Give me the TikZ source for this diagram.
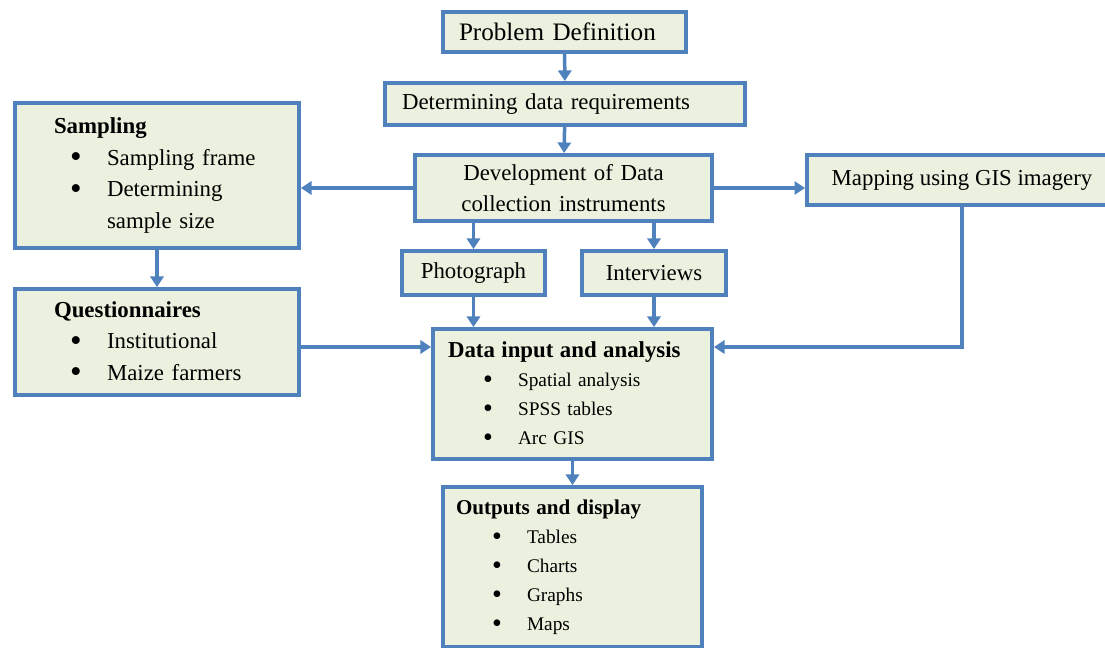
\documentclass[tikz,border=0pt]{standalone}
\usepackage{fontspec}
\setmainfont{Liberation Serif}
\usepackage{tikz}
\usetikzlibrary{arrows.meta,positioning,calc}
\usepackage{xcolor}
\definecolor{boxblue}{RGB}{79,129,189}
\definecolor{boxfill}{RGB}{235,241,222}
\newcommand{\bigdot}{\raisebox{-0.1em}{\scalebox{1.45}{\textbullet}}}
\newcommand{\blt}[3]{\hspace*{#1}\makebox[#2][l]{\bigdot}#3}
\newcommand{\fsbig}{\fontsize{14.3}{17}\selectfont}
\newcommand{\fsmid}{\fontsize{13}{18}\selectfont}
\newcommand{\fssml}{\fontsize{11}{16.5}\selectfont}
\tikzset{
  bx/.style={draw=boxblue,fill=boxfill,line width=0.08cm,
             inner ysep=2pt,font=\fsmid},
  bxl/.style={bx,align=left},
  bxc/.style={bx,align=center},
}

\begin{document}
\begin{tikzpicture}[
    x=0.02cm,y=-0.02cm,
    arr/.style={-{Triangle[length=6pt,width=7.5pt]},line width=0.07cm,boxblue}
  ]
    \useasboundingbox (0,0) rectangle (1105,648);
    % main column
    \node[bxl,font=\fsbig,text width=4.22cm,inner xsep=0.32cm,
          minimum height=0.8cm] (prob) at (564.5,32) {Problem Definition};
    \node[bxl,text width=6.52cm,inner xsep=0.34cm,
          minimum height=0.84cm] (req) at (565,104)
      {Determining data requirements};
    \node[bxc,text width=5.5cm,inner xsep=0.22cm,
          minimum height=1.32cm] (dev) at (563.5,188)
      {Development of Data\\ collection instruments};
    \node[bxc,minimum width=2.86cm,minimum height=0.88cm] (photo)
      at (473.5,273) {Photograph};
    \node[bxc,minimum width=2.88cm,minimum height=0.88cm] (intv)
      at (654,273) {Interviews};
    \node[bxc,minimum width=6.2cm,minimum height=1.0cm] (map)
      at (962,180) {Mapping using GIS imagery};
    % side boxes
    \node[bxl,text width=4.12cm,inner xsep=0.78cm,
          minimum height=2.9cm] (samp) at (157,175.5)
      {\textbf{Sampling}\\
       \blt{0.32cm}{0.74cm}{Sampling frame}\\
       \blt{0.32cm}{0.74cm}{Determining}\\
       \hspace*{1.06cm}sample size};
    \node[bxl,text width=4.12cm,inner xsep=0.78cm,
          minimum height=2.12cm] (quest) at (157,342)
      {\textbf{Questionnaires}\\
       \blt{0.32cm}{0.74cm}{Institutional}\\
       \blt{0.32cm}{0.74cm}{Maize farmers}};
    % analysis and output
    \node[bxl,font=\fssml,text width=4.98cm,inner xsep=0.3cm,
          minimum height=2.6cm] (data) at (572.5,394)
      {{\fontsize{13}{16.5}\selectfont\bfseries Data input and analysis}\\
       \blt{0.7cm}{0.7cm}{Spatial analysis}\\
       \blt{0.7cm}{0.7cm}{SPSS tables}\\
       \blt{0.7cm}{0.7cm}{Arc GIS}};
    \node[bxl,font=\fssml,text width=4.66cm,inner xsep=0.26cm,
          minimum height=3.2cm] (outp) at (572.5,567)
      {{\fontsize{12}{16.7}\selectfont\bfseries Outputs and display}\\
       \blt{0.72cm}{0.7cm}{Tables}\\
       \blt{0.72cm}{0.7cm}{Charts}\\
       \blt{0.72cm}{0.7cm}{Graphs}\\
       \blt{0.72cm}{0.7cm}{Maps}};
    \coordinate (din) at (572.5,347);
    % connectors
    \draw[arr] (prob) -- (req);
    \draw[arr] (req) -- (dev);
    \draw[arr] (dev.west) -- (dev.west -| samp.east);
    \draw[arr] (dev.east) -- (dev.east -| map.west);
    \draw[arr] (samp) -- (quest);
    \draw[arr] (photo.north |- dev.south) -- (photo.north);
    \draw[arr] (intv.north |- dev.south) -- (intv.north);
    \draw[arr] (photo.south) -- (photo.south |- data.north);
    \draw[arr] (intv.south) -- (intv.south |- data.north);
    \draw[arr] (quest.east |- din) -- (data.west |- din);
    \draw[arr] (map.south) |- (data.east |- din);
    \draw[arr] (data) -- (outp);
  \end{tikzpicture}
\end{document}
